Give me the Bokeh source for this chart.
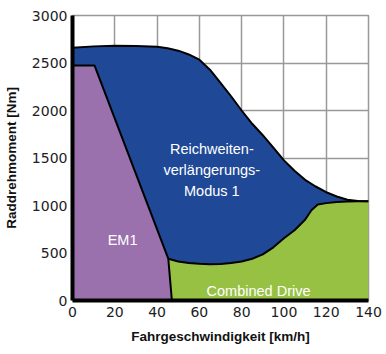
from bokeh.plotting import figure
from bokeh.models import Range1d, FixedTicker, Label
from bokeh.core.properties import value
from bokeh.embed import file_html
from bokeh.resources import INLINE

# ---- data ----
speed_ticks = [0, 20, 40, 60, 80, 100, 120, 140]
torque_ticks = [0, 500, 1000, 1500, 2000, 2500, 3000]

# upper boundary of the range-extender region (Nm over km/h)
upper_speed = [0, 10, 20, 30, 40, 45, 50, 55, 60, 65, 70, 75, 80, 85, 90, 95,
               100, 105, 110, 115, 120, 125, 130, 135, 140]
upper_torque = [2660, 2675, 2682, 2680, 2670, 2655, 2630, 2590, 2535, 2430, 2290,
                2150, 2000, 1860, 1740, 1610, 1475, 1365, 1270, 1200, 1140, 1095,
                1060, 1048, 1045]

# upper boundary of the combined-drive region
lower_speed = [45.3, 50, 55, 60, 65, 70, 75, 80, 85, 90, 95, 100, 105, 110, 113,
               116, 120, 125, 130, 135, 140]
lower_torque = [440, 410, 395, 388, 382, 385, 395, 410, 440, 485, 560, 655, 740,
                850, 950, 1010, 1025, 1038, 1043, 1045, 1045]

# EM1 region outline
em1_speed = [0, 10.4, 45.3, 47]
em1_torque = [2474, 2474, 440, 0]

blue = "#1f4996"
purple = "#9a71ac"
green = "#97c143"

p = figure(width=386, height=354, output_backend="svg", toolbar_location=None,
           x_range=Range1d(0, 140), y_range=Range1d(0, 3000),
           min_border_left=69, min_border_right=18, min_border_top=15,
           min_border_bottom=54)
p.outline_line_color = "#999999"
p.outline_line_width = 1.5
p.background_fill_color = "white"

# regions
green_x = [em1_speed[-1]] + lower_speed + [140]
green_y = [0] + lower_torque + [0]
p.patch(green_x, green_y, fill_color=green, line_color=None)

purple_x = [0] + em1_speed
purple_y = [0] + em1_torque
p.patch(purple_x, purple_y, fill_color=purple, line_color=None)

blue_x = [0] + upper_speed + lower_speed[::-1] + em1_speed[1::-1]
blue_y = [em1_torque[0]] + upper_torque + lower_torque[::-1] + em1_torque[1::-1]
p.patch(blue_x, blue_y, fill_color=blue, line_color=None)

# outlines
p.line(upper_speed, upper_torque, line_color="black", line_width=2)
p.line(lower_speed, lower_torque, line_color="black", line_width=2)
p.line(em1_speed, em1_torque, line_color="black", line_width=2)

# labels inside
txt_font = value("Liberation Sans")
p.text(x=[65.9], y=[1372], text=["Reichweiten-\nverlängerungs-\nModus 1"],
       text_color="white", text_font=txt_font, text_font_size="14.5px",
       text_align="center", text_baseline="middle", text_line_height=1.3)
p.text(x=[23.7], y=[632], text=["EM1"], text_color="white", text_font=txt_font,
       text_font_size="14.5px", text_align="center", text_baseline="middle")
p.text(x=[88], y=[98], text=["Combined Drive"], text_color="white",
       text_font=txt_font, text_font_size="14.5px", text_align="center",
       text_baseline="middle")

# axes
for ax in (p.xaxis, p.yaxis):
    ax.axis_line_width = 4
    ax.axis_line_color = "black"
    ax.major_tick_line_color = None
    ax.minor_tick_line_color = None
    ax.major_tick_out = 0
    ax.major_tick_in = 0
    ax.major_label_text_font = "DejaVu Sans"
    ax.major_label_text_font_size = "14px"
    ax.major_label_text_color = "#1c1c24"
    ax.axis_label_text_font = "Liberation Sans"
    ax.axis_label_text_font_style = "bold"
    ax.axis_label_text_font_size = "13.5px"
    ax.axis_label_text_color = "#111111"

p.xaxis.ticker = FixedTicker(ticks=speed_ticks)
p.yaxis.ticker = FixedTicker(ticks=torque_ticks)
p.xaxis.axis_label = "Fahrgeschwindigkeit [km/h]"
p.yaxis.axis_label = "Raddrehmoment [Nm]"
p.xaxis.major_label_standoff = 6
p.yaxis.major_label_standoff = 5
p.xaxis.axis_label_standoff = 9
p.yaxis.axis_label_standoff = 10

p.grid.grid_line_color = "#999999"
p.grid.grid_line_width = 1.5

# partly visible tick label from a neighbouring chart at the left edge
p.add_layout(Label(x=-32.2, y=-80, text="40", text_align="left",
                   text_baseline="top", text_font="DejaVu Sans",
                   text_font_size="14px", text_color="#1c1c24"))

open("out.html", "w").write(file_html(p, INLINE))
